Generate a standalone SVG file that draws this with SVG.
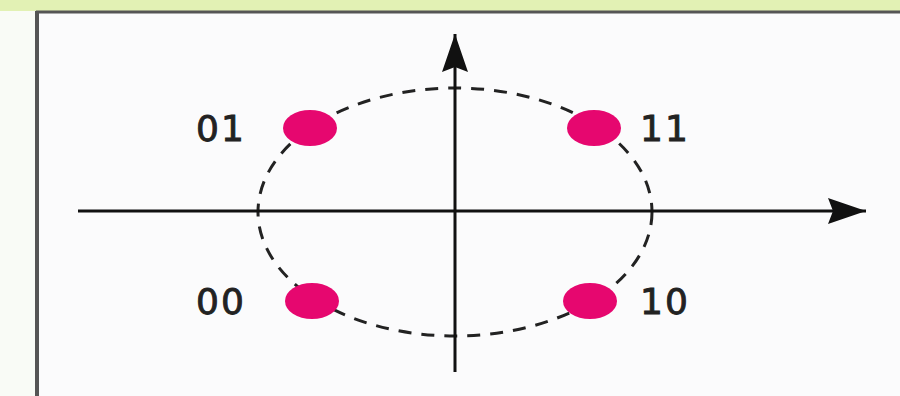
<svg xmlns="http://www.w3.org/2000/svg" width="900" height="396" viewBox="0 0 900 396">
<style>
.lbl{font-family:"DejaVu Sans","Liberation Sans",sans-serif;font-size:36px;fill:#222;stroke:#222;stroke-width:0.9;letter-spacing:2px}
.dot{fill:#e6076f}
.axis{stroke:#111;stroke-width:3;fill:none}
</style>
<defs>
<marker id="ah" viewBox="0 0 38 26" refX="38" refY="13" markerWidth="38" markerHeight="26" markerUnits="userSpaceOnUse" orient="auto">
<path d="M0,0 L38,13 L0,26 L5,13 Z" fill="#111"/>
</marker>
</defs>
<rect x="0" y="0" width="900" height="396" fill="#f9fbf6"/>
<rect x="0" y="0" width="900" height="11" fill="#e2f1b4"/>
<rect x="38" y="11" width="862" height="385" fill="#fbfbfc"/>
<line x1="36" y1="12" x2="900" y2="12" stroke="#555" stroke-width="3"/>
<line x1="37" y1="11" x2="37" y2="396" stroke="#555" stroke-width="4"/>
<g id="circle">
<ellipse cx="455" cy="212" rx="197" ry="124" fill="none" stroke="#222" stroke-width="3" stroke-dasharray="13 10"/>
</g>
<g id="connectors">
<line class="axis" x1="78" y1="211" x2="866" y2="211" marker-end="url(#ah)"/>
<line class="axis" x1="455" y1="372" x2="455" y2="34" marker-end="url(#ah)"/>
</g>
<g id="p01"><ellipse class="dot" cx="310" cy="128" rx="27" ry="18"/><text class="lbl" x="196" y="141">01</text></g>
<g id="p11"><ellipse class="dot" cx="594" cy="128" rx="27" ry="18"/><text class="lbl" x="640" y="141">11</text></g>
<g id="p00"><ellipse class="dot" cx="312" cy="301" rx="27" ry="18"/><text class="lbl" x="196" y="314">00</text></g>
<g id="p10"><ellipse class="dot" cx="590" cy="301" rx="27" ry="18"/><text class="lbl" x="640" y="314">10</text></g>
</svg>
